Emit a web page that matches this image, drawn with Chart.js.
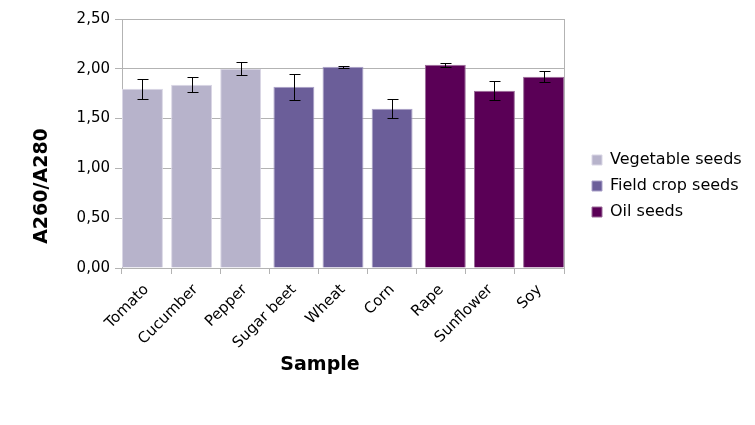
<!DOCTYPE html>
<html><head><meta charset="utf-8">
<script src="https://cdn.jsdelivr.net/npm/chart.js@4/dist/chart.umd.min.js"></script>
<style>html,body{margin:0;padding:0;background:#fff}</style>
</head><body>
<canvas id="c" width="755" height="425"></canvas>
<script>
const categories = ['Tomato','Cucumber','Pepper','Sugar beet','Wheat','Corn','Rape','Sunflower','Soy'];
const seriesNames = ['Vegetable seeds','Field crop seeds','Oil seeds'];
const vegetableSeeds = [1.80, 1.84, 2.00, null, null, null, null, null, null];
const fieldCropSeeds = [null, null, null, 1.82, 2.02, 1.60, null, null, null];
const oilSeeds       = [null, null, null, null, null, null, 2.04, 1.78, 1.92];
const vegetableErr = [0.10, 0.075, 0.065, null, null, null, null, null, null];
const fieldCropErr = [null, null, null, 0.13, 0.01, 0.095, null, null, null];
const oilErr       = [null, null, null, null, null, null, 0.02, 0.095, 0.055];
const yTicks = [0, 0.5, 1.0, 1.5, 2.0, 2.5];
const xTitle = 'Sample';
const yTitle = 'A260/A280';

const FONT = "'DejaVu Sans'";
const colors = ['#b7b3cb', '#6b5e99', '#5a0056'];
const borders = ['#d9d6e5', '#a9a0c8', '#9a6a98'];
const errs = [vegetableErr, fieldCropErr, oilErr];

const errorBars = {
  id: 'errorBars',
  afterDatasetsDraw(chart) {
    const ctx = chart.ctx, y = chart.scales.y;
    ctx.save();
    ctx.strokeStyle = '#000';
    ctx.lineWidth = 1;
    chart.data.datasets.forEach((ds, di) => {
      const meta = chart.getDatasetMeta(di);
      meta.data.forEach((el, i) => {
        const v = ds.data[i], e = errs[di][i];
        if (v == null || e == null) return;
        const x = Math.round(el.x) + 0.5;
        const y1 = Math.round(y.getPixelForValue(v + e)) + 0.5;
        const y2 = Math.round(y.getPixelForValue(v - e)) + 0.5;
        ctx.beginPath();
        ctx.moveTo(x, y1); ctx.lineTo(x, y2);
        ctx.moveTo(x - 5, y1); ctx.lineTo(x + 6, y1);
        ctx.moveTo(x - 5, y2); ctx.lineTo(x + 6, y2);
        ctx.stroke();
      });
    });
    ctx.restore();
  }
};
const frameAndTitles = {
  id: 'frameAndTitles',
  afterInit(chart) {
    const lg = chart.legend;
    const fit = lg.fit.bind(lg);
    lg.fit = function () { fit(); this.width = 173; };
  },
  afterLayout(chart) {
    const lg = chart.legend;
    lg.left += 18; lg.right += 18;
  },
  afterDraw(chart) {
    const {ctx, chartArea: a} = chart;
    ctx.save();
    ctx.strokeStyle = '#b3b3b3'; ctx.lineWidth = 1;
    ctx.beginPath();
    ctx.moveTo(Math.round(a.right) + 0.5, a.top);
    ctx.lineTo(Math.round(a.right) + 0.5, a.bottom);
    ctx.stroke();
    ctx.fillStyle = '#000';
    ctx.font = 'bold 19px ' + FONT;
    ctx.textAlign = 'center';
    ctx.textBaseline = 'alphabetic';
    ctx.fillText(xTitle, a.left + 198, chart.scales.x.bottom - 2);
    ctx.translate(chart.scales.y.left + 47, (chart.legend.top + chart.legend.bottom) / 2);
    ctx.rotate(-Math.PI / 2);
    ctx.fillText(yTitle, 0, 0);
    ctx.restore();
  }
};

new Chart(document.getElementById('c'), {
  type: 'bar',
  data: {
    labels: categories,
    datasets: [vegetableSeeds, fieldCropSeeds, oilSeeds].map((d, i) => ({
      label: seriesNames[i], data: d,
      backgroundColor: colors[i], borderColor: borders[i], borderWidth: 1,
      categoryPercentage: 0.25, barPercentage: 10
    }))
  },
  options: {
    responsive: false, animation: false, devicePixelRatio: 1,
    layout: { padding: { left: 0, top: 0, bottom: 53, right: 0 } },
    plugins: {
      tooltip: { enabled: false },
      legend: {
        position: 'right',
        labels: { font: { family: FONT, size: 16 }, color: '#000', boxWidth: 10, boxHeight: 10, padding: 10 }
      }
    },
    scales: {
      x: {
        grid: { offset: true, drawOnChartArea: false, drawTicks: true, tickLength: 6, color: '#b3b3b3' },
        border: { color: '#b3b3b3' },
        ticks: { font: { family: FONT, size: 15 }, color: '#000', maxRotation: 45, minRotation: 45, padding: 7 },
        afterFit(s) { s.paddingRight = 191; s.height = 104; }
      },
      y: {
        min: 0, max: 2.5,
        afterBuildTicks(s) { s.ticks = yTicks.map(v => ({ value: v })); },
        grid: { color: '#b3b3b3', tickLength: 7 },
        border: { color: '#b3b3b3' },
        ticks: { font: { family: FONT, size: 15 }, color: '#000', padding: 5,
          callback: v => Number(v).toFixed(2).replace('.', ',') },
        afterFit(s) { s.width = 122; s.paddingTop = 19; }
      }
    }
  },
  plugins: [errorBars, frameAndTitles]
});
</script>
</body></html>
